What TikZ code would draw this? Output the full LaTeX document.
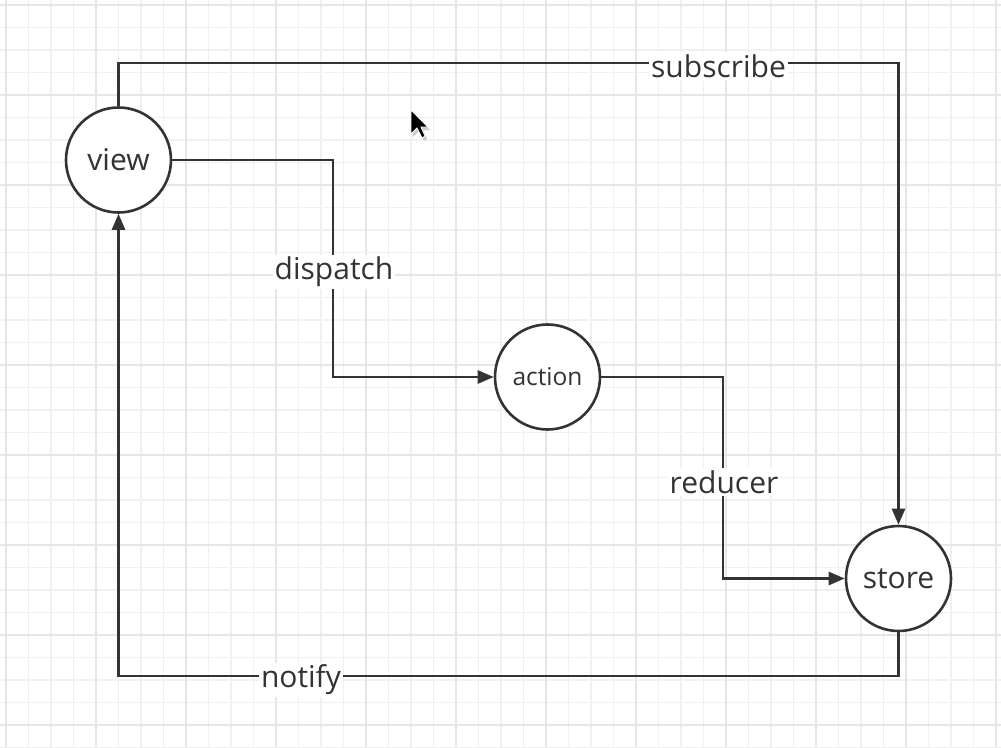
\documentclass[tikz,border=0pt]{standalone}
\usepackage{fontspec}
\setmainfont{Open Sans}
\usetikzlibrary{arrows.meta}
\definecolor{ink}{HTML}{333333}
\definecolor{gridminor}{HTML}{F0F0F0}
\definecolor{gridmajor}{HTML}{E6E6E6}
\begin{document}
\begin{tikzpicture}[x=1pt,y=-1pt,
  state/.style={circle,draw=ink,line width=2.6pt,fill=white,minimum size=105pt,inner sep=0pt,text=ink,font=\fontsize{30}{34}\selectfont},
  conn/.style={draw=ink,line width=2.6pt,-{Triangle[length=16pt,width=13pt]}},
  lbl/.style={fill=white,text=ink,inner sep=2pt,font=\fontsize{30}{34}\selectfont}]
\useasboundingbox (0,0) rectangle (1001,747);
\fill[white] (0,0) rectangle (1001,747);
% grid
\foreach \i in {0,...,44} {
  \pgfmathsetmacro{\gx}{6+22.5*\i}
  \draw[gridminor,line width=1.3pt] (\gx,0) -- (\gx,747);
}
\foreach \i in {0,...,33} {
  \pgfmathsetmacro{\gy}{5+22.5*\i}
  \draw[gridminor,line width=1.3pt] (0,\gy) -- (1001,\gy);
}
\foreach \i in {0,...,11} {
  \pgfmathsetmacro{\gx}{6+90*\i}
  \draw[gridmajor,line width=1.5pt] (\gx,0) -- (\gx,747);
}
\foreach \i in {0,...,8} {
  \pgfmathsetmacro{\gy}{5+90*\i}
  \draw[gridmajor,line width=1.5pt] (0,\gy) -- (1001,\gy);
}
% nodes
\node[state] (view) at (118.5,160) {view};
\node[state,font=\fontsize{24.5}{28}\selectfont] (action) at (547.5,377) {action};
\node[state] (store) at (898.5,578.5) {store};
% corner coordinates
\coordinate (c1) at (118.5,63);
\coordinate (c2) at (898.5,63);
\coordinate (d1) at (333,160);
\coordinate (d2) at (333,377);
\coordinate (r1) at (723,377);
\coordinate (r2) at (723,578.5);
\coordinate (n1) at (898.5,676);
\coordinate (n2) at (118.5,676);
% connectors
\draw[conn] (view.north) -- (c1) -- (c2) -- (store.north);
\draw[conn] (view.east) -- (d1) -- (d2) -- (action.west);
\draw[conn] (action.east) -- (r1) -- (r2) -- (store.west);
\draw[conn] (store.south) -- (n1) -- (n2) -- (view.south);
% labels
\node[lbl] (lsub) at (718.5,66) {subscribe};
\node[lbl] (ldis) at (334,272) {dispatch};
\node[lbl] (lred) at (724,482) {reducer};
\node[lbl] (lnot) at (301,680) {notify};
% cursor
\fill[gray!40] (413,113) -- (413,137) -- (419,131) -- (424,141) -- (427,139) -- (423,130) -- (430,130) -- cycle;
\fill[black,draw=white,line width=0.8pt] (411,110) -- (411,134) -- (417,128) -- (422,138) -- (425,136) -- (421,127) -- (428,127) -- cycle;
\end{tikzpicture}
\end{document}
